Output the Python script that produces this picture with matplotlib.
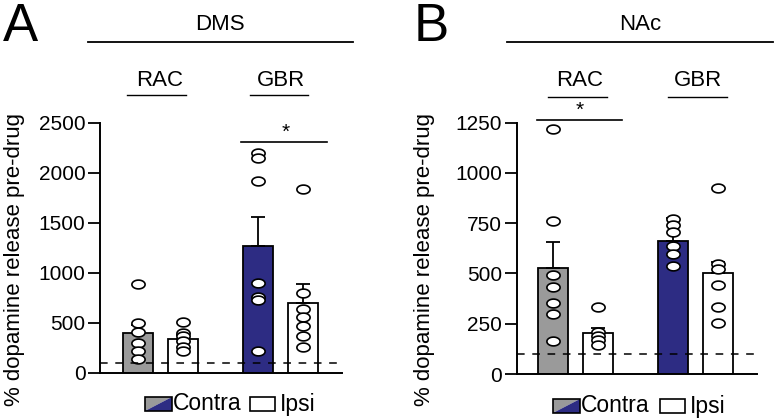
import numpy as np
import matplotlib
matplotlib.use("Agg")
import matplotlib.pyplot as plt
from matplotlib.path import Path
from matplotlib.patches import Polygon
from matplotlib.lines import Line2D

plt.rcParams["font.family"] = ["Liberation Sans", "DejaVu Sans"]

# bar order: RAC contra, RAC ipsi, GBR contra, GBR ipsi
bar_x = [0, 1, 2.67, 3.67]
bar_colors = ["#9a9a9a", "white", "#2d2c83", "white"]

dms_mean = [400, 337, 1268, 700]
dms_sem = [85, 45, 295, 195]
dms_points = [
    [890, 503, 413, 297, 220, 137],
    [510, 400, 370, 320, 260, 220],
    [2200, 2150, 1920, 900, 760, 730, 220],
    [1840, 800, 640, 560, 470, 370, 260],
]

nac_mean = [526, 206, 662, 504]
nac_sem = [132, 21, 116, 55]
nac_points = [
    [1219, 763, 493, 434, 352, 299, 166],
    [335, 211, 189, 169, 144],
    [770, 741, 708, 637, 595, 537],
    [924, 546, 521, 443, 332, 255],
]

baseline = 100

W, H = 777, 420
fig = plt.figure(figsize=(W / 100, H / 100), dpi=100)


def fx(x):
    return x / W


def fy(y):
    return 1 - y / H


# ellipse marker, wider than tall
t = np.linspace(0, 2 * np.pi, 60)
ellipse = Path(np.column_stack([1.5 * np.cos(t), np.sin(t)]), closed=True)


def draw_panel(rect, means, sems, points, ylim, yticks, xlim, label_x):
    ax = fig.add_axes(rect)
    ax.bar(bar_x, means, width=0.66, color=bar_colors, edgecolor="black",
           linewidth=1.3, zorder=2)
    ax.errorbar(bar_x, means, yerr=[np.zeros(len(sems)), sems], fmt="none",
                ecolor="black", elinewidth=1.3, capsize=5, capthick=1.3, zorder=3)
    for x, pts in zip(bar_x, points):
        ax.plot([x] * len(pts), pts, linestyle="none", marker=ellipse,
                markersize=9.5, markerfacecolor="white", markeredgecolor="black",
                markeredgewidth=1.2, zorder=4)
    ax.axhline(baseline, color="black", lw=1.1, dashes=(5, 5), zorder=5)
    ax.set_xlim(*xlim)
    ax.set_ylim(*ylim)
    ax.set_yticks(yticks)
    ax.set_xticks([])
    for s in ["top", "right"]:
        ax.spines[s].set_visible(False)
    for s in ["left", "bottom"]:
        ax.spines[s].set_linewidth(1.4)
    ax.tick_params(axis="y", length=8.5, width=1.3, labelsize=15, pad=2)
    ax.set_ylabel("% dopamine release pre-drug", fontsize=16, va="bottom")
    ax.yaxis.set_label_coords(label_x, 0.455)
    ax.patch.set_alpha(0)
    return ax


def hline(x0, x1, y, lw=1.3):
    fig.add_artist(Line2D([fx(x0), fx(x1)], [fy(y), fy(y)], color="black",
                          lw=lw, transform=fig.transFigure))


def ftext(x, y, s, size=16, **kw):
    fig.text(fx(x), fy(y), s, fontsize=size, ha=kw.pop("ha", "center"),
             va=kw.pop("va", "center"), **kw)


def legend(x0, y0, text_gap):
    # split swatch: grey upper-left, navy lower-right
    x1, y1 = x0 + 27, y0 + 14
    fig.add_artist(Polygon([(fx(x0), fy(y0)), (fx(x1), fy(y0)), (fx(x0), fy(y1))],
                           closed=True, facecolor=bar_colors[0], edgecolor="none",
                           transform=fig.transFigure))
    fig.add_artist(Polygon([(fx(x1), fy(y0)), (fx(x1), fy(y1)), (fx(x0), fy(y1))],
                           closed=True, facecolor=bar_colors[2], edgecolor="none",
                           transform=fig.transFigure))
    fig.add_artist(Polygon([(fx(x0), fy(y0)), (fx(x1), fy(y0)), (fx(x1), fy(y1)),
                            (fx(x0), fy(y1))], closed=True, facecolor="none",
                           edgecolor="black", lw=1.2, transform=fig.transFigure))
    ftext(x1 + 1, y0 + 7, "Contra", size=16.5, ha="left")
    wx = x0 + text_gap
    fig.add_artist(Polygon([(fx(wx), fy(y0)), (fx(wx + 25), fy(y0)),
                            (fx(wx + 25), fy(y1)), (fx(wx), fy(y1))], closed=True,
                           facecolor="white", edgecolor="black", lw=1.2,
                           transform=fig.transFigure))
    ftext(wx + 30, y0 + 7, "Ipsi", size=16.5, ha="left")


# panel A (DMS)
axA = draw_panel([fx(100), fy(373), 242 / W, 250 / H], dms_mean, dms_sem,
                 dms_points, (0, 2500), [0, 500, 1000, 1500, 2000, 2500],
                 (-0.84, 4.53), -0.31)
axA.plot([2.29, 4.2], [2310, 2310], color="black", lw=1.2, clip_on=False)
axA.text(3.27, 2410, "*", ha="center", va="center", fontsize=15, clip_on=False)

# panel B (NAc)
axB = draw_panel([fx(516.7), fy(374), 240 / W, 251.3 / H], nac_mean, nac_sem,
                 nac_points, (0, 1250), [0, 250, 500, 750, 1000, 1250],
                 (-0.81, 4.53), -0.34)
axB.plot([-0.36, 1.53], [1263, 1263], color="black", lw=1.2, clip_on=False)
axB.text(0.6, 1310, "*", ha="center", va="center", fontsize=15, clip_on=False)

# headers
ftext(20, 27, "A", size=38)
ftext(220, 24, "DMS")
hline(88, 353, 42)
ftext(160, 80, "RAC")
hline(127, 186, 95, lw=1.0)
ftext(281, 80, "GBR")
hline(250, 308, 95, lw=1.0)

ftext(431, 27, "B", size=38)
ftext(640, 24, "NAc")
hline(507, 773, 42)
ftext(580, 80, "RAC")
hline(548, 607, 97, lw=1.0)
ftext(698, 80, "GBR")
hline(668, 727, 97, lw=1.0)

legend(145, 397, 105)
legend(553, 399, 107)

fig.savefig("out.png", dpi=100)
